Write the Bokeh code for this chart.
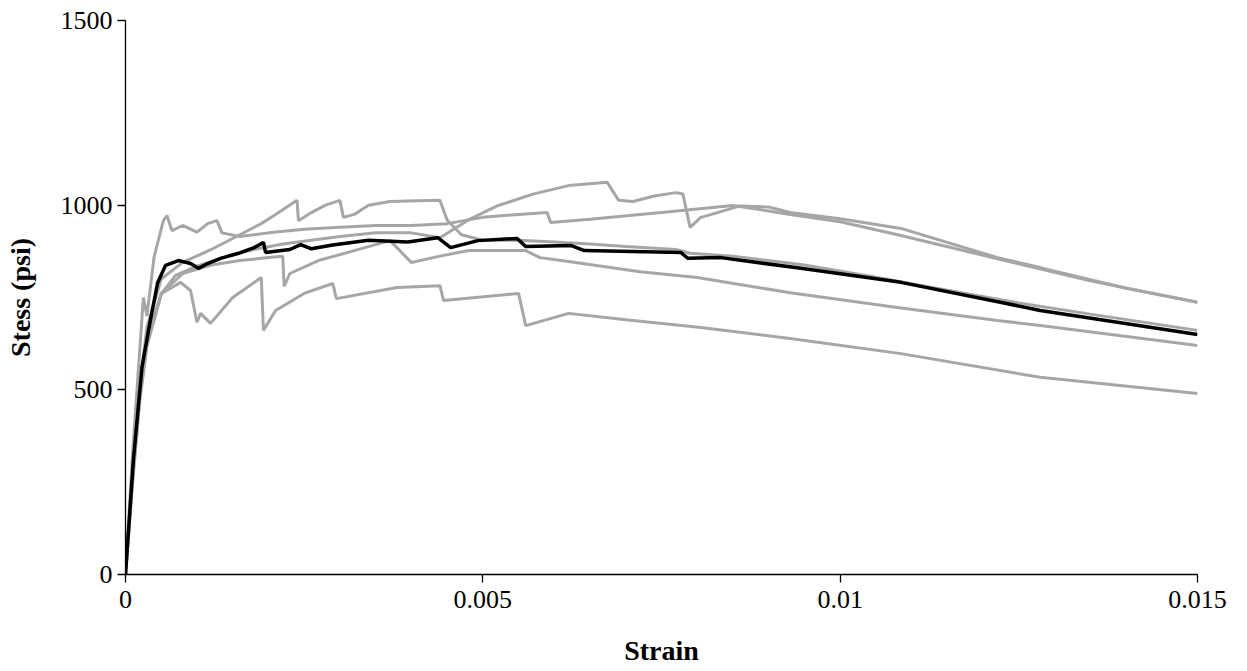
from bokeh.plotting import figure
from bokeh.models import Range1d, FixedTicker, CustomJSTickFormatter
from bokeh.embed import file_html
from bokeh.resources import INLINE

# ---- data (strain, stress psi) ----
strain_g1 = [0, 0.0001, 0.0002, 0.0003, 0.0005, 0.0007, 0.0010, 0.0014, 0.0018, 0.0022, 0.0026,
             0.0030, 0.0035, 0.0040, 0.0044, 0.0048, 0.0052, 0.0057, 0.0062, 0.00674, 0.0069,
             0.0071, 0.0074, 0.0077, 0.0078, 0.0079, 0.00805, 0.0082, 0.0086, 0.0090, 0.0093,
             0.0100, 0.01085, 0.0122, 0.0128, 0.0140, 0.0150]
stress_g1 = [0, 280, 500, 640, 760, 810, 835, 860, 880, 895, 905,
             915, 925, 925, 912, 960, 998, 1030, 1053, 1062, 1013,
             1010, 1025, 1034, 1030, 940, 967, 975, 998, 995, 980,
             963, 937, 858, 831, 775, 737]

strain_g2 = [0, 0.0001, 0.00025, 0.0003, 0.0004, 0.00053, 0.00058, 0.00065, 0.0008, 0.0010,
             0.00115, 0.00128, 0.00135, 0.0016, 0.0020, 0.0025, 0.0030, 0.0035, 0.0040, 0.0045,
             0.0050, 0.0055, 0.0059, 0.00595, 0.0065, 0.0075, 0.0085, 0.0093, 0.0100, 0.01085,
             0.0122, 0.0135, 0.0150]
stress_g2 = [0, 330, 750, 700, 860, 958, 972, 931, 945, 927,
             950, 958, 925, 915, 925, 935, 940, 945, 945, 950,
             967, 975, 980, 953, 962, 980, 999, 975, 955, 918,
             855, 795, 737]

strain_g3 = [0, 0.0001, 0.0002, 0.0003, 0.0005, 0.0008, 0.0012, 0.0016, 0.0019, 0.0021, 0.0024,
             0.00242, 0.0026, 0.0028, 0.0030, 0.00305, 0.0032, 0.0034, 0.0037, 0.0041, 0.0044,
             0.0045, 0.0047, 0.0050, 0.0055, 0.0060, 0.0065, 0.0070, 0.0077, 0.0079, 0.0085,
             0.0095, 0.0105, 0.0115, 0.0125, 0.0135, 0.0150]
stress_g3 = [0, 270, 510, 670, 800, 845, 880, 920, 950, 975, 1013,
             958, 980, 1000, 1013, 967, 975, 1000, 1010, 1012, 1013,
             960, 920, 905, 905, 900, 895, 888, 880, 870, 862,
             838, 805, 770, 735, 705, 661]

strain_g4 = [0, 0.0001, 0.0002, 0.0003, 0.0005, 0.0008, 0.0012, 0.0016, 0.0020, 0.0022, 0.00222,
             0.0023, 0.0027, 0.0032, 0.0037, 0.0040, 0.0044, 0.0048, 0.0056, 0.0058, 0.0061,
             0.0072, 0.0080, 0.0093, 0.0108, 0.0122, 0.0128, 0.0150]
stress_g4 = [0, 255, 480, 620, 760, 815, 838, 850, 858, 862, 780,
             815, 850, 877, 904, 845, 862, 877, 877, 858, 850,
             820, 804, 763, 723, 688, 674, 620]

strain_g5 = [0, 0.0001, 0.0002, 0.0003, 0.0005, 0.00077, 0.00091, 0.0010, 0.00105, 0.00119,
             0.0015, 0.0019, 0.00193, 0.0021, 0.0025, 0.0029, 0.00295, 0.0038, 0.0044, 0.00445,
             0.0055, 0.0056, 0.0062, 0.0070, 0.00805, 0.0093, 0.01085, 0.0128, 0.0150]
stress_g5 = [0, 250, 470, 620, 760, 791, 769, 683, 707, 680,
             750, 804, 661, 715, 761, 788, 747, 777, 782, 742,
             761, 674, 707, 690, 669, 639, 598, 534, 490]

strain_avg = [0, 0.00011, 0.00023, 0.00035, 0.00045, 0.00056, 0.00074, 0.00091, 0.00102, 0.00115,
              0.00133, 0.00157, 0.0018, 0.00193, 0.00196, 0.0023, 0.00245, 0.0026, 0.0029, 0.0034,
              0.00395, 0.00437, 0.00455, 0.00493, 0.00548, 0.0056, 0.00623, 0.00642, 0.00777,
              0.00787, 0.00833, 0.00945, 0.01085, 0.01224, 0.0128, 0.0150]
stress_avg = [0, 309, 561, 690, 790, 837, 850, 842, 829, 842,
              856, 869, 885, 899, 872, 880, 893, 882, 892, 905,
              900, 912, 885, 904, 910, 888, 891, 877, 872,
              856, 858, 829, 791, 737, 715, 650]

x_ticks = [0, 0.005, 0.01, 0.015]
y_ticks = [0, 500, 1000, 1500]

FONT = "Liberation Serif"

p = figure(width=1240, height=670, output_backend="svg", toolbar_location=None,
           x_range=Range1d(0, 0.015), y_range=Range1d(0, 1500),
           min_border_left=125, min_border_right=43, min_border_top=20, min_border_bottom=96)
p.xgrid.visible = False
p.ygrid.visible = False
p.outline_line_color = None

gray = "#A6A6A6"
for xs, ys in [(strain_g1, stress_g1), (strain_g2, stress_g2), (strain_g3, stress_g3),
               (strain_g4, stress_g4), (strain_g5, stress_g5)]:
    p.line(xs, ys, line_color=gray, line_width=3)
p.line(strain_avg, stress_avg, line_color="black", line_width=3.5)

for ax in (p.xaxis[0], p.yaxis[0]):
    ax.major_tick_out = 8
    ax.major_tick_in = 0
    ax.minor_tick_out = 0
    ax.minor_tick_in = 0
    ax.axis_line_color = "black"
    ax.axis_line_width = 1.3
    ax.major_tick_line_width = 1.3
    ax.major_label_text_font = FONT
    ax.major_label_text_font_size = "26px"
    ax.major_label_text_color = "black"
    ax.axis_label_text_font = FONT
    ax.axis_label_text_font_size = "28px"
    ax.axis_label_text_font_style = "bold"
    ax.axis_label_text_color = "black"

p.xaxis.ticker = FixedTicker(ticks=x_ticks, minor_ticks=[])
p.yaxis.ticker = FixedTicker(ticks=y_ticks, minor_ticks=[])
p.xaxis.formatter = CustomJSTickFormatter(code="return tick.toString();")
p.yaxis.formatter = CustomJSTickFormatter(code="return tick.toString();")
p.xaxis.axis_label = "Strain"
p.yaxis.axis_label = "Stess (psi)"
p.xaxis.major_label_standoff = 8
p.xaxis.axis_label_standoff = 24
p.yaxis.major_label_standoff = 5
p.yaxis.axis_label_standoff = 22

open("out.html", "w").write(file_html(p, INLINE))
